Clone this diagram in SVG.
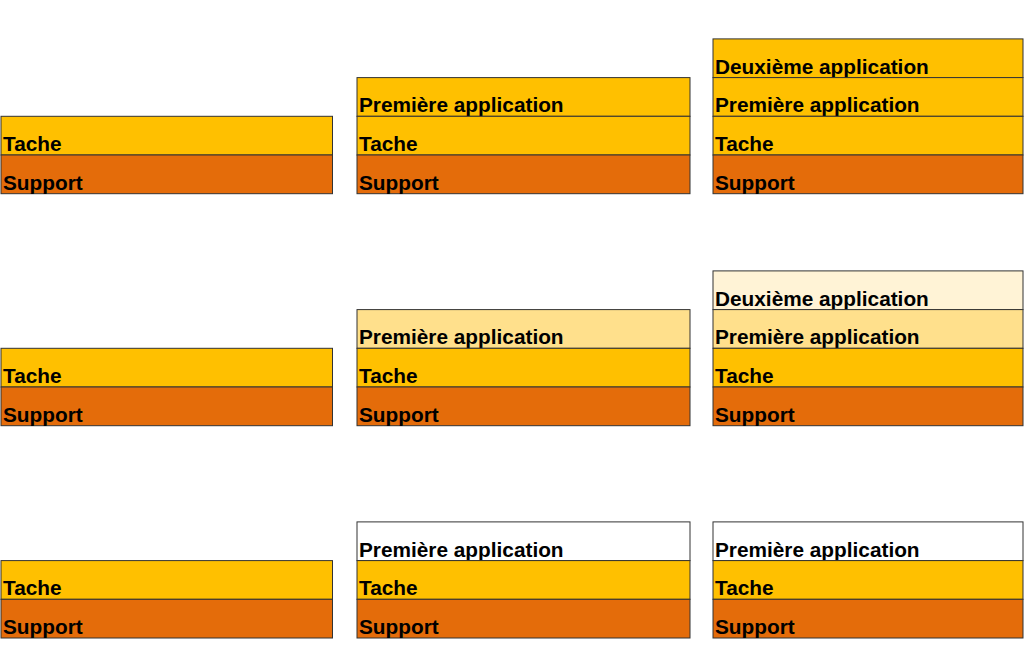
<svg xmlns="http://www.w3.org/2000/svg" width="1024" height="651" viewBox="0 0 1024 651">
<style>
rect{stroke:#333333;stroke-width:1}
.s{fill:#E46C0A}
.t{fill:#FFC000}
.p1{fill:#FFE08C}
.p2{fill:#FFF3D6}
.w{fill:#FFFFFF}
text{font-family:"Liberation Sans",Arial,sans-serif;font-weight:bold;font-size:20.8px;fill:#000000}
</style>
<rect x="0" y="0" width="1024" height="651" fill="#FFFFFF" style="stroke:none"/>
<g id="row1-col1">
<rect class="t" x="1" y="116.3" width="331.5" height="38.7"/>
<text x="3" y="151">Tache</text>
<rect class="s" x="1" y="155" width="331.5" height="38.7"/>
<text x="3" y="189.7">Support</text>
</g>
<g id="row1-col2">
<rect class="t" x="357" y="77.6" width="333" height="38.7"/>
<text x="359" y="112.3">Première application</text>
<rect class="t" x="357" y="116.3" width="333" height="38.7"/>
<text x="359" y="151">Tache</text>
<rect class="s" x="357" y="155" width="333" height="38.7"/>
<text x="359" y="189.7">Support</text>
</g>
<g id="row1-col3">
<rect class="t" x="713" y="38.9" width="310" height="38.7"/>
<text x="715" y="73.6">Deuxième application</text>
<rect class="t" x="713" y="77.6" width="310" height="38.7"/>
<text x="715" y="112.3">Première application</text>
<rect class="t" x="713" y="116.3" width="310" height="38.7"/>
<text x="715" y="151">Tache</text>
<rect class="s" x="713" y="155" width="310" height="38.7"/>
<text x="715" y="189.7">Support</text>
</g>
<g id="row2-col1">
<rect class="t" x="1" y="348.3" width="331.5" height="38.7"/>
<text x="3" y="383">Tache</text>
<rect class="s" x="1" y="387" width="331.5" height="38.7"/>
<text x="3" y="421.7">Support</text>
</g>
<g id="row2-col2">
<rect class="p1" x="357" y="309.6" width="333" height="38.7"/>
<text x="359" y="344.3">Première application</text>
<rect class="t" x="357" y="348.3" width="333" height="38.7"/>
<text x="359" y="383">Tache</text>
<rect class="s" x="357" y="387" width="333" height="38.7"/>
<text x="359" y="421.7">Support</text>
</g>
<g id="row2-col3">
<rect class="p2" x="713" y="270.9" width="310" height="38.7"/>
<text x="715" y="305.6">Deuxième application</text>
<rect class="p1" x="713" y="309.6" width="310" height="38.7"/>
<text x="715" y="344.3">Première application</text>
<rect class="t" x="713" y="348.3" width="310" height="38.7"/>
<text x="715" y="383">Tache</text>
<rect class="s" x="713" y="387" width="310" height="38.7"/>
<text x="715" y="421.7">Support</text>
</g>
<g id="row3-col1">
<rect class="t" x="1" y="560.6" width="331.5" height="38.7"/>
<text x="3" y="595.3">Tache</text>
<rect class="s" x="1" y="599.3" width="331.5" height="38.7"/>
<text x="3" y="634">Support</text>
</g>
<g id="row3-col2">
<rect class="w" x="357" y="521.9" width="333" height="38.7"/>
<text x="359" y="556.6">Première application</text>
<rect class="t" x="357" y="560.6" width="333" height="38.7"/>
<text x="359" y="595.3">Tache</text>
<rect class="s" x="357" y="599.3" width="333" height="38.7"/>
<text x="359" y="634">Support</text>
</g>
<g id="row3-col3">
<rect class="w" x="713" y="521.9" width="310" height="38.7"/>
<text x="715" y="556.6">Première application</text>
<rect class="t" x="713" y="560.6" width="310" height="38.7"/>
<text x="715" y="595.3">Tache</text>
<rect class="s" x="713" y="599.3" width="310" height="38.7"/>
<text x="715" y="634">Support</text>
</g>
</svg>
